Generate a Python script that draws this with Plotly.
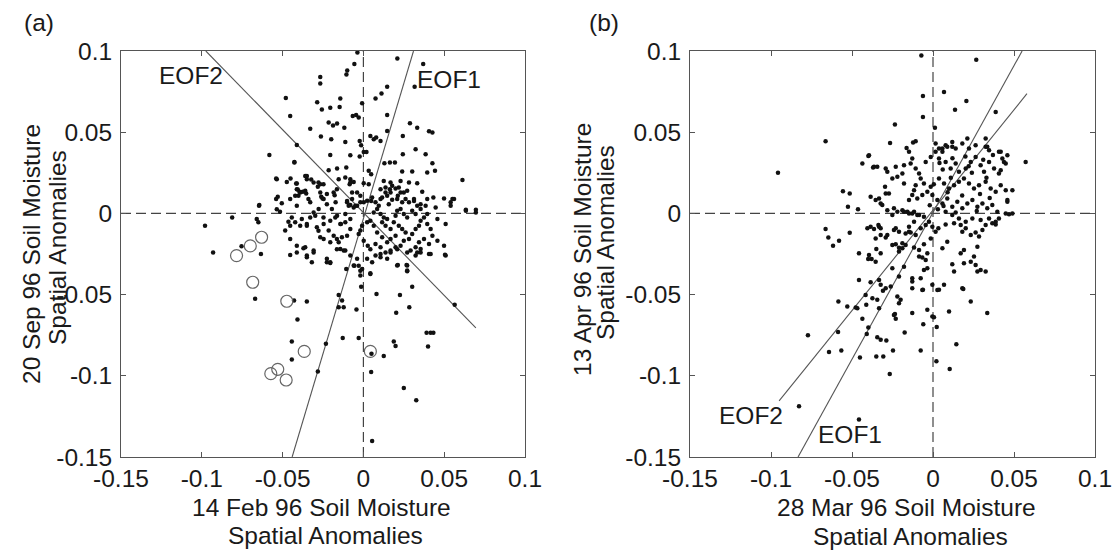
import plotly.graph_objects as go

W, H = 1118, 553
FONT = "Liberation Sans, Arial, Helvetica, sans-serif"
TXT = "#1a1a1a"
FS = 24.5

tick_vals = [-0.15, -0.1, -0.05, 0, 0.05, 0.1]
tick_text = ["-0.15", "-0.1", "-0.05", "0", "0.05", "0.1"]

# ---------------- Panel (a): 14 Feb 96 vs 20 Sep 96 ----------------
a_dots = [
    (-0.0037, 0.099), (-0.0056, 0.092), (-0.010, 0.088), (-0.0105, 0.0855), (0.021, 0.0954),
    (0.037, 0.092), (-0.0267, 0.084), (-0.0267, 0.080), (0.0317, 0.078), (0.0147, 0.078),
    (0.0112, 0.0739), (0.0075, 0.0708), (-0.048, 0.071), (-0.0143, 0.0708), (-0.0286, 0.0684),
    (-0.0257, 0.064), (-0.0205, 0.065), (-0.0147, 0.0655), (-0.0008, 0.0678), (-0.0453, 0.060),
    (-0.0066, 0.060), (-0.0045, 0.0606), (-0.0029, 0.059), (0.0147, 0.0606), (-0.0215, 0.056),
    (-0.0188, 0.0542), (-0.0163, 0.0553), (0.0288, 0.0555), (0.0333, 0.0528), (0.0406, 0.0506),
    (0.0427, 0.0498), (-0.0329, 0.0522), (-0.0118, 0.0528), (0.0043, 0.0477), (0.0064, 0.0456),
    (0.0079, 0.0467), (0.0106, 0.0446), (-0.0023, 0.0446), (-0.0014, 0.042), (0.0147, 0.0507),
    (-0.0263, 0.0473), (-0.0199, 0.0456), (-0.0112, 0.044), (-0.0412, 0.0421), (0.0244, 0.0477),
    (0.0244, 0.0364), (0.0323, 0.0395), (0.0385, 0.0364), (0.0002, 0.0378), (0.0019, 0.0378),
    (-0.0081, 0.0358), (-0.0023, 0.035), (-0.0205, 0.036), (-0.0582, 0.036), (-0.0427, 0.0313),
    (0.013, 0.0309), (0.0164, 0.0313), (0.0195, 0.0313), (0.0427, 0.0309), (0.0443, 0.0262),
    (0.0613, 0.0206), (-0.0106, 0.0283), (-0.0163, 0.0276), (-0.0215, 0.0266), (0.0033, 0.0262),
    (0.0048, 0.0241), (0.024, 0.0258), (0.0302, 0.0258), (0.0395, 0.0252), (-0.0536, 0.0211),
    (-0.0474, 0.0194), (-0.0412, 0.0184), (-0.036, 0.0231), (-0.035, 0.0211), (-0.0278, 0.019),
    (-0.0247, 0.018), (-0.0081, 0.0211), (-0.006, 0.0194), (-0.0085, 0.018), (0.0002, 0.0186),
    (0.0033, 0.018), (0.0126, 0.020), (0.0168, 0.019), (0.023, 0.020), (0.0282, 0.019),
    (0.0333, 0.0186), (0.0164, 0.0149), (0.0199, 0.0154), (0.025, 0.0129), (0.0364, 0.0133),
    (0.0433, 0.0098), (0.0499, 0.0092), (0.0551, 0.0088), (0.054, 0.0068), (0.0634, 0.0022),
    (0.0696, 0.0022), (-0.0412, 0.0149), (-0.0396, 0.0133), (-0.0402, 0.0108), (-0.054, 0.0088),
    (-0.0505, 0.0063), (-0.0646, 0.0047), (-0.034, 0.0088), (-0.0329, 0.0068), (-0.0267, 0.0129),
    (-0.0253, 0.0092), (-0.0226, 0.0119), (-0.0178, 0.0112), (-0.0172, 0.0068), (-0.0101, 0.0077),
    (-0.0081, 0.0051), (-0.006, 0.0037), (-0.0039, 0.0047), (-0.0019, 0.0068), (0.0048, 0.0077),
    (0.0106, 0.0088), (0.0137, 0.0129), (0.0178, 0.0084), (0.0213, 0.0108), (0.0261, 0.0088),
    (0.0313, 0.0077), (0.0354, 0.0057), (0.0385, 0.0047), (-0.0812, -0.0025), (-0.098, -0.0076),
    (-0.066, -0.0035), (-0.065, -0.0055), (-0.0536, 0.0026), (-0.0516, 0.001), (-0.0464, -0.0052),
    (-0.0453, -0.0076), (-0.0381, -0.0035), (-0.035, -0.0076), (-0.0298, -0.0015), (-0.0247, -0.0025),
    (-0.0205, -0.0045), (-0.0278, -0.0107), (-0.0163, -0.0015), (-0.0139, -0.0066), (-0.0112, -0.0004),
    (-0.0081, -0.0035),
    # dense core
    (-0.0039, 0.0129), (-0.0019, 0.0109), (-0.007, 0.0088), (-0.0091, 0.0047), (-0.005, 0.0047),
    (0.0002, 0.0068), (0.0023, 0.0078), (0.0054, 0.0098), (0.0075, 0.0068), (0.0095, 0.0047),
    (0.0085, 0.0027), (0.0064, 0.0006), (0.0106, -0.0004), (0.0126, -0.0025), (0.0147, -0.0035),
    (0.0116, -0.0055), (0.0137, -0.0076), (0.0168, -0.0096), (0.0188, -0.0055), (0.0199, -0.0014),
    (0.0209, 0.0016), (0.023, 0.0027), (0.025, -0.0004), (0.0271, -0.0025), (0.0219, -0.0076),
    (0.024, -0.0096), (0.0261, -0.0117), (0.0199, -0.0137), (0.0168, -0.0158), (0.0147, -0.0178),
    (0.0116, -0.0147), (0.0085, -0.0117), (0.0064, -0.0076), (0.0043, -0.0045), (0.0023, -0.0055),
    (-0.0008, -0.0076), (-0.0019, -0.0106), (-0.0029, -0.0127), (0.0002, -0.0168), (0.0027, -0.0199),
    (0.0075, -0.0188), (0.0106, -0.0209), (0.0137, -0.024), (0.0168, -0.0229), (0.0199, -0.0209),
    (0.023, -0.0199), (0.025, -0.0168), (0.0282, -0.0158), (0.0302, -0.0127), (0.0323, -0.0096),
    (0.0344, -0.0076), (0.0354, -0.0045), (0.0375, -0.0025), (0.0395, -0.0004), (0.0323, -0.0004),
    (0.0302, 0.0016), (0.0282, 0.0068), (0.0313, 0.0088), (0.0333, 0.0047), (0.0354, 0.0027),
    (0.0395, -0.0066), (0.0416, -0.0096), (0.0427, -0.0137), (0.0375, -0.0158), (0.0344, -0.0178),
    (0.0323, -0.0209), (0.0292, -0.0229), (0.0354, -0.0219), (0.0406, -0.0188), (0.0458, -0.0168),
    (0.0499, -0.0199), (0.0509, -0.0066), (0.0447, 0.0037), (0.0458, -0.0035), (0.0395, 0.0088),
    (0.023, 0.0129), (0.0168, 0.0129), (0.0147, 0.0109), (0.0209, 0.0088), (0.0157, 0.0057),
    (0.0116, 0.0098), (0.0106, 0.0149), (0.0137, 0.016), (0.0178, 0.017), (0.0219, 0.016),
    (0.0271, 0.0139), (0.024, 0.0068),
    # left of core
    (-0.0453, 0.0088), (-0.0422, 0.0109), (-0.0391, 0.0129), (-0.036, 0.0139), (-0.0412, 0.0047),
    (-0.0443, -0.0025), (-0.0422, -0.0055), (-0.0391, -0.0076), (-0.0484, -0.0106), (-0.0453, -0.0158),
    (-0.0412, -0.0199), (-0.036, -0.0209), (-0.035, -0.026), (-0.0308, -0.0229), (-0.0267, -0.0147),
    (-0.0246, -0.0158), (-0.0205, -0.0178), (-0.0184, -0.0137), (-0.0164, -0.0158), (-0.0153, -0.0178),
    (-0.0133, -0.0147), (-0.0101, -0.0137), (-0.0143, -0.0219), (-0.0112, -0.0229), (-0.0226, -0.028),
    (-0.0205, -0.0301), (-0.0081, -0.0096), (-0.0112, -0.0055), (-0.0143, -0.0066), (-0.0174, -0.0025),
    (-0.0195, 0.0027), (-0.0226, 0.0057), (-0.0246, 0.0088), (-0.0277, 0.0027), (-0.0308, 0.0006),
    (-0.0329, -0.0025), (-0.035, -0.0066), (-0.0288, -0.0086), (-0.0246, -0.0066), (-0.0215, -0.0106),
    (-0.0184, 0.0129), (-0.0164, 0.0149), (-0.0153, 0.0211), (-0.0112, 0.0221), (-0.0081, 0.019),
    (-0.007, 0.0129), (-0.0101, 0.0068), (-0.0267, 0.018), (-0.0308, 0.019), (-0.035, 0.0231),
    # below core
    (-0.0081, -0.026), (-0.0039, -0.028), (-0.006, -0.0321), (-0.0008, -0.0342), (-0.0019, -0.0383),
    (0.0043, -0.0373), (0.0023, -0.028), (0.0054, -0.0301), (0.0075, -0.026), (0.0106, -0.027),
    (0.0147, -0.028), (0.0209, -0.0321), (0.0271, -0.0321), (0.0271, -0.0352), (0.0323, -0.026),
    (0.0354, -0.024), (0.0406, -0.025), (0.0509, -0.026), (0.0634, 0.0016), (0.0696, 0.0006),
    (0.054, 0.0047), (0.0561, 0.0088),
    # lower part
    (-0.093, -0.024), (-0.0754, -0.0203), (-0.0634, -0.025), (-0.067, -0.0526), (-0.0429, -0.0537),
    (-0.035, -0.0543), (-0.0408, -0.0653), (-0.0443, -0.0789), (-0.0443, -0.0899), (-0.0282, -0.0973),
    (-0.0232, -0.0803), (-0.0128, -0.0768), (-0.0029, -0.0768), (-0.0153, -0.0502), (-0.0153, -0.0578),
    (-0.0122, -0.0578), (-0.0132, -0.0537), (-0.0043, -0.0592), (-0.0014, -0.0451), (0.0043, -0.0369),
    (0.0081, -0.0496), (0.0226, -0.0502), (0.0203, -0.0612), (0.0284, -0.0578), (0.0302, -0.0451),
    (0.0213, -0.0318), (0.0267, -0.0318), (0.0271, -0.0356), (0.0188, -0.0789), (0.0199, -0.0817),
    (0.0391, -0.0735), (0.0416, -0.0735), (0.0433, -0.0735), (0.040, -0.0819), (0.0126, -0.0878),
    (0.005, -0.0864), (0.0048, -0.0977), (0.025, -0.1075), (0.0327, -0.1151), (0.0054, -0.1401),
    (0.0565, -0.0563), (0.0505, -0.0254), (0.0416, -0.025), (0.0333, -0.024), (0.0271, -0.024),
    (0.0209, -0.022), (0.0168, -0.024), (0.0106, -0.025), (0.0043, -0.022), (-0.0029, -0.0322),
    (-0.0019, -0.0353), (-0.0056, -0.0322), (-0.0106, -0.0342), (-0.0226, -0.0301), (-0.0205, -0.0305),
    (-0.0319, -0.0301), (-0.035, -0.027), (-0.0453, -0.0256), (-0.0412, -0.024), (-0.0371, -0.0215),
    (-0.0308, -0.024), (-0.0164, -0.022), (-0.0122, -0.0229),
    # upper-left extras
    (-0.0427, 0.0317), (-0.054, 0.0215), (-0.0451, 0.0215), (-0.0354, 0.0229), (-0.0323, 0.0209),
    (-0.0416, 0.0184), (-0.0406, 0.0147), (-0.0375, 0.0133), (-0.0354, 0.0123), (-0.053, 0.0102),
    (-0.0644, 0.0051), (-0.0282, 0.0164), (-0.0261, 0.0102),
]
a_x = [p[0] for p in a_dots]
a_y = [p[1] for p in a_dots]

a_circ_x = [-0.0785, -0.070, -0.063, -0.0685, -0.0474, -0.0366, -0.053, -0.0573, -0.0478, 0.0043]
a_circ_y = [-0.026, -0.020, -0.0147, -0.0424, -0.0541, -0.085, -0.096, -0.0987, -0.1026, -0.085]

a_eof1_x = [0.031, -0.0441]
a_eof1_y = [0.1, -0.15]
a_eof2_x = [-0.0975, 0.0696]
a_eof2_y = [0.1, -0.0705]

# ---------------- Panel (b): 28 Mar 96 vs 13 Apr 96 ----------------
b_dots = [
    (-0.0072, 0.0973), (0.0267, 0.0946), (-0.0062, 0.0723), (0.0068, 0.0747), (-0.0062, 0.0594),
    (0.0136, 0.0639), (0.0206, 0.0692), (0.0012, 0.0528), (-0.0235, 0.0547), (0.0387, 0.0624),
    (-0.0663, 0.0444), (-0.0957, 0.025), (-0.0265, 0.0434), (-0.0123, 0.0436), (-0.0107, 0.0444),
    (-0.0163, 0.0403), (0.0572, 0.0317), (-0.0436, 0.0307), (-0.0399, 0.0354), (-0.0364, 0.0287),
    (-0.0344, 0.0287), (-0.0292, 0.0276), (-0.0179, 0.0297), (-0.0189, 0.0246), (-0.0251, 0.0215),
    (-0.0296, 0.0164), (-0.0292, 0.0123), (-0.0556, 0.0137), (-0.0514, 0.0123), (-0.0525, 0.0041),
    (-0.0463, 0.0025), (-0.0385, 0.0102), (-0.0354, 0.0082), (-0.0323, 0.0061), (-0.0663, -0.0096),
    (-0.0646, -0.0149), (-0.0617, -0.0199), (-0.058, -0.0168), (-0.0514, -0.0119), (-0.0457, -0.0246),
    (-0.0395, -0.0256), (-0.0405, -0.0092), (-0.0385, -0.0082), (-0.0337, -0.0072), (-0.0323, -0.0092),
    (-0.0354, -0.0154), (-0.0323, -0.0133), (-0.0292, -0.0149), (-0.023, -0.0092), (-0.021, -0.0113),
    (-0.0251, -0.001), (-0.022, 0.001), (-0.0189, 0.002), (-0.0158, 0.001), (-0.0128, 0.0),
    (-0.0097, -0.001), (-0.0251, -0.0195), (-0.021, -0.0211), (-0.0148, -0.0113), (-0.0107, -0.0133),
    (-0.0076, -0.0092), (-0.0045, -0.0072),
    (0.0418, 0.0379), (0.0428, 0.0338), (0.0449, 0.0307), (0.0459, 0.0358), (0.049, 0.0143),
    (0.0459, 0.0072), (0.0469, -0.0006), (0.0397, 0.001), (0.0407, -0.0031), (0.0387, -0.0068),
    (0.0325, 0.0461), (0.0335, 0.041), (0.0212, 0.0461), (0.0119, 0.041), (0.0058, 0.0379),
    (-0.0395, 0.0358), (-0.037, 0.0283), (-0.0282, 0.0256), (-0.023, 0.0287), (-0.022, 0.0225),
    (-0.0179, 0.0184), (-0.0272, 0.0123), (-0.0333, 0.0092), (-0.0313, 0.0051), (-0.0282, 0.002),
    (-0.0241, 0.0031), (-0.0179, 0.001), (-0.0148, 0.0), (-0.0117, 0.001), (-0.0086, -0.001),
    (-0.0056, -0.002),
    (-0.0148, 0.0379), (-0.0128, 0.0338), (-0.0138, 0.0307), (-0.0107, 0.0276), (-0.0086, 0.0246),
    (-0.0076, 0.0215), (-0.0056, 0.0184), (-0.0107, 0.0174), (-0.0117, 0.0143), (-0.0128, 0.0113),
    (-0.0148, 0.0082), (-0.0097, 0.0092), (-0.0066, 0.0113), (-0.0035, 0.0133), (-0.0014, 0.0164),
    (-0.0045, 0.0317), (-0.0014, 0.0348), (0.0016, 0.0379), (0.0037, 0.0399), (0.0078, 0.042),
    (0.0119, 0.044), (0.0016, 0.043), (0.0058, 0.0399), (0.0088, 0.041), (0.014, 0.0399),
    (0.0181, 0.043), (0.0222, 0.0399), (0.0263, 0.042), (0.0325, 0.041), (0.0346, 0.0389),
    (0.0407, 0.0379), (0.0438, 0.0317),
    (0.0037, 0.0338), (0.0078, 0.0317), (0.0109, 0.0276), (0.014, 0.0307), (0.016, 0.0256),
    (0.0202, 0.0276), (0.0233, 0.0317), (0.0263, 0.0348), (0.0294, 0.0297), (0.0315, 0.0256),
    (0.0346, 0.0317), (0.0377, 0.0276), (0.0407, 0.0246), (0.0418, 0.0266),
    (0.0037, 0.0215), (0.0068, 0.0184), (0.0099, 0.0154), (0.013, 0.0174), (0.016, 0.0195),
    (0.0191, 0.0215), (0.0222, 0.0184), (0.0253, 0.0154), (0.0284, 0.0174), (0.0325, 0.0195),
    (0.0356, 0.0154), (0.0387, 0.0133), (0.0418, 0.0174), (0.0449, 0.0143), (0.0459, 0.0082),
    (-0.0004, 0.0113), (0.0027, 0.0082), (0.0058, 0.0061), (0.0088, 0.0092), (0.0119, 0.0041),
    (0.015, 0.0072), (0.0181, 0.0031), (0.0212, 0.0061), (0.0243, 0.0082), (0.0274, 0.0041),
    (0.0305, 0.0061), (0.0335, 0.0031), (0.0366, 0.0051), (0.0449, 0.0), (0.049, 0.0),
    (0.0078, 0.001), (0.0119, -0.001), (0.016, -0.0031), (0.0202, -0.0051), (0.0243, -0.0031),
    (0.0294, -0.0041), (0.0346, -0.0031), (0.0387, -0.0051),
    (0.0005, 0.018), (0.006, 0.027), (0.011, 0.022), (0.018, 0.011), (0.024, 0.025),
    (0.029, 0.012), (0.033, 0.022), (0.020, 0.035), (0.009, 0.013), (0.014, 0.0005),
    (0.027, 0.0015), (0.003, 0.0025), (-0.002, 0.005), (0.004, 0.031), (0.031, 0.033),
    (0.037, 0.036), (0.022, 0.029), (0.012, 0.034), (0.0065, 0.0045), (0.035, 0.0095),
    (-0.040, -0.0281), (-0.0379, -0.0281), (-0.0354, -0.0297), (-0.035, -0.0219), (-0.0323, -0.0246),
    (-0.0364, -0.0096), (-0.0333, -0.0082), (-0.0282, -0.0133), (-0.0241, -0.0102), (-0.0169, -0.0123),
    (-0.0138, -0.0117), (-0.0148, -0.0082), (-0.023, -0.019), (-0.0189, -0.0184), (-0.0169, -0.0195),
    (-0.021, -0.0235), (-0.0189, -0.0215), (-0.0117, -0.021), (-0.0086, -0.0225), (-0.0056, -0.019),
    (-0.0014, -0.0154), (-0.0086, -0.0266), (-0.0066, -0.0272), (-0.0045, -0.0287), (-0.0117, -0.0051),
    (-0.0025, -0.0051), (-0.0004, -0.0082), (0.0016, -0.0113), (0.0033, -0.0092), (0.0078, -0.0068),
    (0.013, -0.0061), (0.0171, -0.0072), (0.0181, -0.0113), (0.0202, -0.0092), (0.0233, -0.0133),
    (0.0263, -0.0117), (0.0284, -0.0143), (0.0305, -0.0102), (0.0325, -0.0072), (0.0366, -0.0061),
    (0.0058, -0.0215), (0.0088, -0.0174), (0.0171, -0.0246), (0.0191, -0.0225), (0.0233, -0.0297),
    (0.0253, -0.0266), (0.0274, -0.0205), (0.0119, -0.0313), (0.013, -0.0358), (0.0191, -0.0307),
    (0.0263, -0.0317), (0.0294, -0.0348), (0.0325, -0.0358), (-0.0035, -0.0338), (-0.0056, -0.0348),
    (-0.0035, -0.0246), (-0.0128, -0.0399), (-0.021, -0.0389), (-0.0251, -0.0338), (-0.0179, -0.0328),
    (-0.0457, -0.041), (-0.0385, -0.0424), (-0.0333, -0.041), (-0.0292, -0.0461), (-0.0261, -0.045),
    (-0.0323, -0.044), (-0.0309, -0.0477), (-0.0416, -0.0502), (-0.0374, -0.0522), (-0.0344, -0.0532),
    (-0.020, -0.0532), (-0.022, -0.0512), (-0.0128, -0.0461), (-0.0066, -0.0471), (-0.0004, -0.044),
    (0.0027, -0.0471), (0.0068, -0.044), (0.0181, -0.0461), (0.0233, -0.0543), (0.0335, -0.0614),
    (-0.0584, -0.0543), (-0.0529, -0.0573), (-0.0467, -0.0584), (-0.0412, -0.0563), (-0.0333, -0.0584),
    (-0.0241, -0.0625), (-0.0128, -0.0614), (-0.0035, -0.0594), (0.0099, -0.0604), (-0.0004, -0.0635),
    (-0.0477, -0.0579), (-0.0436, -0.0649), (-0.0399, -0.0702), (-0.0409, -0.0743), (-0.0772, -0.0751),
    (-0.0586, -0.0731), (-0.0642, -0.0854), (-0.0566, -0.0844), (-0.0451, -0.0887), (-0.035, -0.0881),
    (-0.0307, -0.0881), (-0.0344, -0.0762), (-0.0323, -0.0778), (-0.0288, -0.0782), (-0.0247, -0.0844),
    (-0.0267, -0.0989), (-0.0076, -0.0844), (-0.0175, -0.0733), (-0.023, -0.0649), (-0.0235, -0.062),
    (-0.006, -0.0682), (0.0006, -0.0639), (0.0023, -0.070), (0.0144, -0.0805), (0.0021, -0.091),
    (0.0103, -0.0958), (0.0274, -0.0358), (0.0187, -0.0465), (0.0037, -0.047), (-0.0062, -0.047),
    (-0.0827, -0.1188), (-0.0457, -0.1269), (-0.021, -0.0553), (-0.0128, -0.042), (-0.0076, -0.0399),
]
b_x = [p[0] for p in b_dots]
b_y = [p[1] for p in b_dots]

b_eof1_x = [0.055, -0.0833]
b_eof1_y = [0.1, -0.15]
b_eof2_x = [0.058, -0.095]
b_eof2_y = [0.0737, -0.1155]

# ---------------- figure ----------------
def px(x):
    return x / W

def py(y):
    return 1 - y / H

fig = go.Figure()

DOT = dict(color="#111111", size=4.5)
LINE = dict(color="#555555", width=1.1)

fig.add_trace(go.Scatter(x=a_eof1_x, y=a_eof1_y, mode="lines", line=LINE, xaxis="x", yaxis="y"))
fig.add_trace(go.Scatter(x=a_eof2_x, y=a_eof2_y, mode="lines", line=LINE, xaxis="x", yaxis="y"))
fig.add_trace(go.Scatter(x=a_x, y=a_y, mode="markers", marker=DOT, xaxis="x", yaxis="y"))
fig.add_trace(go.Scatter(x=a_circ_x, y=a_circ_y, mode="markers",
                         marker=dict(symbol="circle-open", size=12, color="#666666", line=dict(width=1.2)),
                         xaxis="x", yaxis="y"))

fig.add_trace(go.Scatter(x=b_eof1_x, y=b_eof1_y, mode="lines", line=LINE, xaxis="x2", yaxis="y2"))
fig.add_trace(go.Scatter(x=b_eof2_x, y=b_eof2_y, mode="lines", line=LINE, xaxis="x2", yaxis="y2"))
fig.add_trace(go.Scatter(x=b_x, y=b_y, mode="markers", marker=DOT, xaxis="x2", yaxis="y2"))

# dashed zero lines
DASH = dict(color="#444444", width=1.2, dash="10px,5px")
for xr, yr in (("x", "y"), ("x2", "y2")):
    fig.add_shape(type="line", xref=xr + " domain", x0=0, x1=1, yref=yr, y0=0, y1=0, line=DASH, layer="below")
    fig.add_shape(type="line", yref=yr + " domain", y0=0, y1=1, xref=xr, x0=0, x1=0, line=DASH, layer="below")

axis_common = dict(
    range=[-0.15, 0.1], tickvals=tick_vals, ticktext=tick_text,
    showline=True, linecolor="#555555", linewidth=1, mirror="allticks",
    ticks="inside", ticklen=5, tickcolor="#555555", tickwidth=1,
    showgrid=False, zeroline=False, automargin=False,
    tickfont=dict(family=FONT, size=FS, color=TXT),
)

ydom = [py(457), py(51)]
fig.update_layout(
    width=W, height=H, autosize=False,
    margin=dict(l=0, r=0, t=0, b=0),
    paper_bgcolor="white", plot_bgcolor="white",
    showlegend=False,
    xaxis=dict(axis_common, domain=[px(121), px(525)], anchor="y", ticklabelstandoff=0),
    yaxis=dict(axis_common, domain=ydom, anchor="x", ticklabelstandoff=3),
    xaxis2=dict(axis_common, domain=[px(690), px(1095)], anchor="y2", ticklabelstandoff=0),
    yaxis2=dict(axis_common, domain=ydom, anchor="x2", ticklabelstandoff=3),
)

def ann(text, x, y, angle=0, xref="paper", yref="paper"):
    fig.add_annotation(text=text, x=x, y=y, xref=xref, yref=yref, showarrow=False,
                       textangle=angle, xanchor="center", yanchor="middle",
                       font=dict(family=FONT, size=FS, color=TXT))

# panel labels
ann("(a)", px(39), py(22))
ann("(b)", px(604), py(22))

# x titles
ann("14 Feb 96 Soil Moisture", px(321), py(507))
ann("Spatial Anomalies", px(325), py(535))
ann("28 Mar 96 Soil Moisture", px(906), py(507))
ann("Spatial Anomalies", px(910), py(536))

# y titles
ann("20 Sep 96 Soil Moisture", px(31), py(254), angle=-90)
ann("Spatial Anomalies", px(57), py(248), angle=-90)
ann("13 Apr 96 Soil Moisture", px(582), py(250), angle=-90)
ann("Spatial Anomalies", px(605), py(243), angle=-90)

# EOF labels (data coordinates of each panel)
ann("EOF2", -0.1068, 0.085, xref="x", yref="y")
ann("EOF1", 0.0528, 0.0825, xref="x", yref="y")
ann("EOF2", -0.1123, -0.1247, xref="x2", yref="y2")
ann("EOF1", -0.0512, -0.1364, xref="x2", yref="y2")

fig.write_html("out.html")
